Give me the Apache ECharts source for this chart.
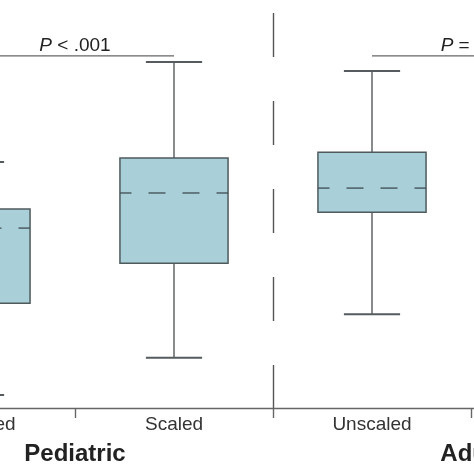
<!DOCTYPE html>
<html>
<head>
<meta charset="utf-8">
<script src="https://cdn.jsdelivr.net/npm/echarts@6/dist/echarts.min.js"></script>
<style>
    html, body { margin: 0; padding: 0; background: #fff; }
    #chart { width: 474px; height: 474px; }
</style>
</head>
<body>
<div id="chart"></div>
<script>
    // 分组与条件
    var groups = ['Pediatric', 'Adult'];
    var conditions = ['Unscaled', 'Scaled', 'Unscaled', 'Scaled'];
    // 箱线图数值
    var lowValues = [3.2, 12.3, 23.0, 30.0];
    var q1Values = [25.7, 35.5, 48.0, 50.0];
    var medianValues = [44.1, 52.7, 53.9, 60.0];
    var q3Values = [48.8, 61.3, 62.7, 70.0];
    var highValues = [60.3, 84.8, 82.6, 88.0];
    // 显著性标注
    var pFrom = [0, 2];
    var pTo = [1, 3];
    var pLevel = [86.3, 86.3];
    var pLabels = ['P < .001', 'P = .05'];

    var lineColor = '#555b5e';
    var fontFamily = 'Liberation Sans, Arial, sans-serif';

    var boxData = conditions.map(function (c, i) {
        return [i, lowValues[i], q1Values[i], medianValues[i], q3Values[i], highValues[i]];
    });
    var pData = pLabels.map(function (t, i) {
        return [pFrom[i], pTo[i], pLevel[i], i];
    });

    function renderBox(params, api) {
        var x = api.value(0);
        var pLow = api.coord([x, api.value(1)]);
        var pQ1 = api.coord([x, api.value(2)]);
        var pMed = api.coord([x, api.value(3)]);
        var pQ3 = api.coord([x, api.value(4)]);
        var pHigh = api.coord([x, api.value(5)]);
        var band = api.size([1, 0])[0];
        var halfBox = band * 0.273;
        var halfCap = band * 0.142;
        var cx = pMed[0];
        var w = halfBox * 2;
        // 中位数虚线居中
        var d = 17, g = 17, p = d + g;
        var off = ((d + g / 2 - w / 2) % p + p) % p;
        var lineStyle = { stroke: lineColor, lineWidth: 1.4 };
        return {
            type: 'group',
            children: [
                { type: 'line', shape: { x1: cx, y1: pHigh[1], x2: cx, y2: pQ3[1] }, style: lineStyle },
                { type: 'line', shape: { x1: cx, y1: pQ1[1], x2: cx, y2: pLow[1] }, style: lineStyle },
                { type: 'line', shape: { x1: cx - halfCap, y1: pHigh[1], x2: cx + halfCap, y2: pHigh[1] }, style: { stroke: lineColor, lineWidth: 2 } },
                { type: 'line', shape: { x1: cx - halfCap, y1: pLow[1], x2: cx + halfCap, y2: pLow[1] }, style: { stroke: lineColor, lineWidth: 2 } },
                {
                    type: 'rect',
                    shape: { x: cx - halfBox, y: pQ3[1], width: w, height: pQ1[1] - pQ3[1] },
                    style: { fill: '#a9cfd8', stroke: '#4f5a5d', lineWidth: 1.5 }
                },
                {
                    type: 'line',
                    shape: { x1: cx - halfBox, y1: pMed[1], x2: cx + halfBox, y2: pMed[1] },
                    style: { stroke: '#3f4d52', lineWidth: 1.3, lineDash: [d, g], lineDashOffset: off }
                }
            ]
        };
    }

    function renderP(params, api) {
        var a = api.coord([api.value(0), api.value(2)]);
        var b = api.coord([api.value(1), api.value(2)]);
        var label = pLabels[api.value(3)];
        return {
            type: 'group',
            children: [
                { type: 'line', shape: { x1: a[0], y1: a[1], x2: b[0], y2: b[1] }, style: { stroke: '#666', lineWidth: 1.4 } },
                {
                    type: 'text',
                    x: (a[0] + b[0]) / 2,
                    y: a[1] - 1,
                    style: {
                        text: '{i|' + label.charAt(0) + '}' + label.slice(1),
                        align: 'center',
                        verticalAlign: 'bottom',
                        fontSize: 19,
                        fontFamily: fontFamily,
                        fill: '#222',
                        rich: { i: { fontStyle: 'italic', fontSize: 19, fontFamily: fontFamily, fill: '#222' } }
                    }
                }
            ]
        };
    }

    var chart = echarts.init(document.getElementById('chart'));
    var option = {
        animation: false,
        grid: {
            left: -123,
            right: -195,
            top: 0,
            bottom: 66,
            containLabel: false,
            outerBoundsMode: 'none'
        },
        xAxis: [{
            type: 'category',
            data: conditions,
            boundaryGap: true,
            axisLine: { lineStyle: { color: '#666', width: 1.4 } },
            axisTick: { show: true, length: 10, lineStyle: { color: '#666', width: 1.4 } },
            axisLabel: {
                interval: 0,
                margin: 7,
                fontSize: 19,
                fontFamily: fontFamily,
                color: '#333'
            },
            splitLine: {
                show: true,
                // 组间分隔虚线 (0 号在画布外)
                interval: function (index) { return index === 0 || index === 2; },
                lineStyle: { color: '#555', width: 1.4, type: [44, 44], dashOffset: 75 }
            }
        }, {
            type: 'category',
            data: groups,
            position: 'bottom',
            boundaryGap: true,
            axisLine: { show: false },
            axisTick: { show: false },
            axisLabel: {
                interval: 0,
                margin: 34,
                fontSize: 24,
                fontWeight: 'bold',
                fontFamily: fontFamily,
                color: '#222'
            }
        }],
        yAxis: {
            type: 'value',
            min: 0,
            max: 100,
            show: false
        },
        series: [{
            type: 'custom',
            renderItem: renderBox,
            encode: { x: 0, y: [1, 2, 3, 4, 5] },
            data: boxData,
            clip: false
        }, {
            type: 'custom',
            renderItem: renderP,
            encode: { x: [0, 1], y: 2 },
            data: pData,
            clip: false
        }]
    };
    chart.setOption(option);
</script>
</body>
</html>
